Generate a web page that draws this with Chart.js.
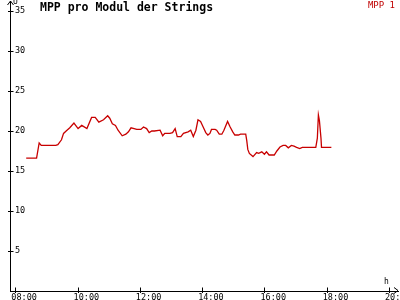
<!DOCTYPE html>
<html>
<head>
<meta charset="utf-8">
<script src="https://cdn.jsdelivr.net/npm/chart.js@4/dist/chart.umd.min.js"></script>
<style>
  html, body { margin: 0; padding: 0; background: #fff; }
  #wrap { width: 400px; height: 300px; }
</style>
</head>
<body>
<div id="wrap"><canvas id="chart" width="400" height="300"></canvas></div>
<script>
// MPP 1 readings (time of day, voltage per module)
const times = [
  "08:21", "08:41", "08:46", "08:50", "09:18", "09:22", "09:29", "09:33", "09:38", "09:45",
  "09:53", "10:01", "10:08", "10:18", "10:27", "10:34", "10:41", "10:50", "10:58", "11:02",
  "11:07", "11:13", "11:18", "11:26", "11:33", "11:38", "11:43", "11:49", "11:54", "12:02",
  "12:07", "12:13", "12:18", "12:23", "12:28", "12:39", "12:44", "12:48", "12:58", "13:03",
  "13:08", "13:12", "13:19", "13:24", "13:33", "13:38", "13:43", "13:48", "13:52", "13:57",
  "14:02", "14:07", "14:11", "14:15", "14:18", "14:25", "14:28", "14:33", "14:38", "14:42",
  "14:49", "14:54", "14:59", "15:03", "15:10", "15:14", "15:19", "15:24", "15:26", "15:28",
  "15:31", "15:38", "15:45", "15:49", "15:55", "16:00", "16:04", "16:09", "16:19", "16:24",
  "16:30", "16:36", "16:41", "16:46", "16:52", "16:57", "17:02", "17:08", "17:13", "17:39",
  "17:42", "17:44", "17:46", "17:49", "17:50", "18:09"
];
const mpp1 = [
  16.6, 16.6, 18.5, 18.2, 18.2, 18.3, 18.9, 19.7, 20.0, 20.4,
  21.0, 20.3, 20.7, 20.3, 21.7, 21.7, 21.1, 21.4, 21.9, 21.6,
  20.9, 20.7, 20.1, 19.4, 19.6, 19.9, 20.4, 20.3, 20.2, 20.2,
  20.5, 20.3, 19.8, 20.0, 20.0, 20.1, 19.4, 19.7, 19.7, 19.8,
  20.3, 19.3, 19.3, 19.7, 19.9, 20.1, 19.3, 20.1, 21.4, 21.2,
  20.5, 19.8, 19.5, 19.7, 20.2, 20.2, 20.1, 19.6, 19.6, 20.1,
  21.2, 20.5, 19.9, 19.5, 19.5, 19.6, 19.6, 19.6, 18.8, 17.7,
  17.2, 16.8, 17.3, 17.2, 17.4, 17.1, 17.4, 17.0, 17.0, 17.5,
  18.0, 18.2, 18.2, 17.9, 18.2, 18.1, 17.95, 17.8, 17.95, 17.95,
  19.1, 22.0, 21.3, 19.1, 17.95, 17.95
];
const xTicks = [8, 10, 12, 14, 16, 18, 20];
const yTicks = [5, 10, 15, 20, 25, 30, 35];

const toHours = s => {
  const [h, m] = s.split(":");
  return +h + m / 60;
};
const pad2 = n => String(n).padStart(2, "0");

const tickFont = { family: "DejaVu Sans Mono", size: 8.5 };

// no auto padding around the scales, the axes reach the canvas edges
const noPad = s => {
  s.paddingLeft = 0;
  s.paddingRight = 0;
  s.paddingTop = 0;
  s.paddingBottom = 0;
};

// axis arrows, crossing tick marks, title, legend, unit labels
const decorations = {
  id: "decorations",
  afterDraw(chart) {
    const ctx = chart.ctx;
    const { left, right, top, bottom } = chart.chartArea;
    const xs = chart.scales.x;
    const ys = chart.scales.y;
    ctx.save();
    ctx.strokeStyle = "#000";
    ctx.lineWidth = 1;
    ctx.beginPath();
    const ax = Math.round(left) + 0.5;
    const ay = Math.round(bottom) - 0.5;
    yTicks.forEach(v => {
      const py = Math.round(ys.getPixelForValue(v)) + 0.5;
      ctx.moveTo(ax - 2.5, py);
      ctx.lineTo(ax + 3, py);
    });
    xTicks.forEach(v => {
      const px = Math.round(xs.getPixelForValue(v)) + 0.5;
      ctx.moveTo(px, ay - 3);
      ctx.lineTo(px, ay + 2.5);
    });
    // y arrow
    ctx.moveTo(ax - 3, top + 4);
    ctx.lineTo(ax, top);
    ctx.lineTo(ax + 3, top + 4);
    // x arrow
    ctx.moveTo(right - 4, ay - 3);
    ctx.lineTo(right, ay);
    ctx.lineTo(right - 4, ay + 3);
    ctx.stroke();

    ctx.fillStyle = "#000";
    ctx.textBaseline = "top";
    ctx.textAlign = "left";
    ctx.font = "bold 11.5px 'DejaVu Sans Mono'";
    ctx.fillText("MPP pro Modul der Strings", 40, 2);

    ctx.font = "8px 'DejaVu Sans Mono'";
    ctx.fillText("U", 13, -2);
    ctx.fillText("h", 384, 278);

    ctx.fillStyle = "#c00000";
    ctx.textAlign = "right";
    ctx.font = "9px 'DejaVu Sans Mono'";
    ctx.fillText("MPP 1", 395, 1);
    ctx.restore();
  }
};

new Chart(document.getElementById("chart"), {
  type: "line",
  data: {
    datasets: [
      {
        label: "MPP 1",
        data: times.map((t, i) => ({ x: toHours(t), y: mpp1[i] })),
        borderColor: "#c80000",
        borderWidth: 1.3,
        pointRadius: 0,
        tension: 0,
        fill: false
      }
    ]
  },
  options: {
    responsive: false,
    animation: false,
    devicePixelRatio: 1,
    layout: { autoPadding: false, padding: { top: 1, right: 2, left: 0, bottom: 0 } },
    plugins: {
      legend: { display: false },
      title: { display: false },
      tooltip: { enabled: false }
    },
    scales: {
      x: {
        type: "linear",
        position: "bottom",
        min: 7.83,
        max: 20.29,
        grid: { display: false, drawTicks: false, tickLength: 0 },
        border: { display: true, color: "#000", width: 1 },
        ticks: {
          font: tickFont,
          color: "#000",
          align: "start",
          labelOffset: -4,
          padding: 2,
          maxRotation: 0,
          autoSkip: false,
          callback: v => pad2(v) + ":00"
        },
        afterBuildTicks: s => { s.ticks = xTicks.map(v => ({ value: v })); },
        afterFit: s => { s.height = 9; noPad(s); }
      },
      y: {
        type: "linear",
        position: "left",
        min: 0,
        max: 36.25,
        grid: { display: false, drawTicks: false, tickLength: 0 },
        border: { display: true, color: "#000", width: 1 },
        ticks: {
          font: tickFont,
          color: "#000",
          mirror: true,
          padding: 5
        },
        afterBuildTicks: s => { s.ticks = yTicks.map(v => ({ value: v })); },
        afterFit: s => { s.width = 10; noPad(s); }
      }
    }
  },
  plugins: [decorations]
});
</script>
</body>
</html>
